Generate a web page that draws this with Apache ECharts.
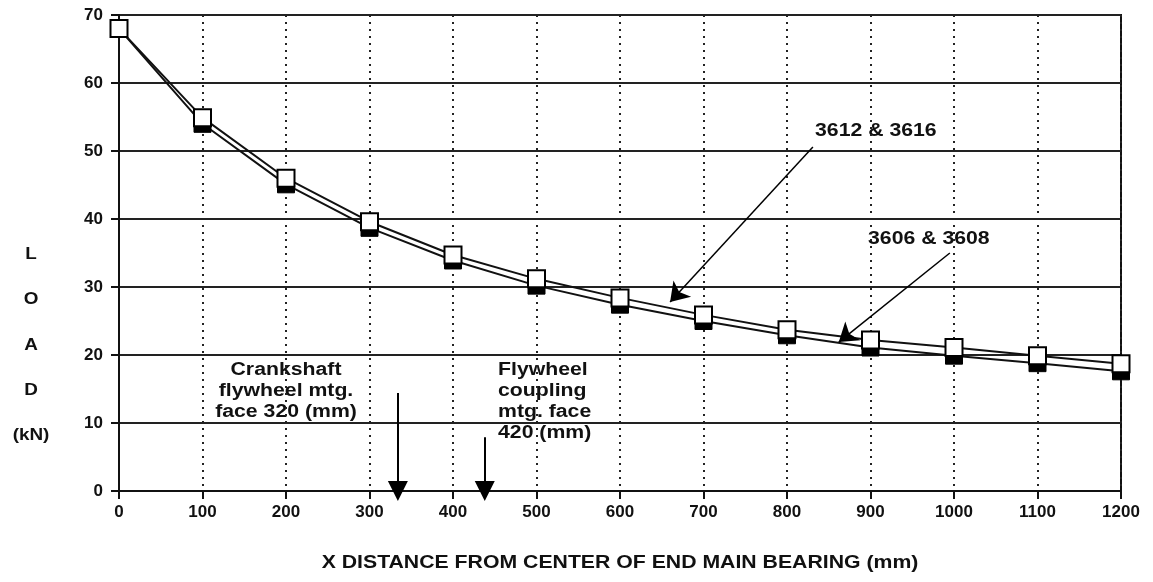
<!DOCTYPE html>
<html>
<head>
<meta charset="utf-8">
<script src="https://cdn.jsdelivr.net/npm/echarts@6/dist/echarts.min.js"></script>
<style>
    html, body { margin: 0; padding: 0; background: #fff; }
    #chart { width: 1153px; height: 582px; }
</style>
</head>
<body>
<div id="chart"></div>
<script>
// distance from center of end main bearing (mm)
const distances = [0, 100, 200, 300, 400, 500, 600, 700, 800, 900, 1000, 1100, 1200];
// load (kN)
const load3612 = [68, 54.9, 46.0, 39.6, 34.7, 31.2, 28.4, 25.9, 23.7, 22.2, 21.1, 19.9, 18.7];
const load3606 = [68, 54.0, 45.1, 38.7, 33.9, 30.2, 27.4, 25.0, 22.9, 21.1, 19.9, 18.8, 17.6];

// annotation arrows in data coordinates [x, y]
const engineArrows = [
    [[831, 50.6], [660, 27.8]],   // 3612 & 3616
    [[995, 35.0], [862, 21.9]]    // 3606 & 3608
];
const faceArrows = [
    [[334, 14.4], [334, 0]],      // crankshaft flywheel mtg. face
    [[438, 7.9], [438, 0]]        // flywheel coupling mtg. face
];

const FONT = 'Liberation Sans, Arial, sans-serif';
const WIDE = 1.18; // the scanned lettering is wider than Arial

const chart = echarts.init(document.getElementById('chart'));

function toPairs(ys) {
    return distances.map((x, i) => [x, ys[i]]);
}

function arrowLines(list) {
    return list.map(a => [{ coord: a[0] }, { coord: a[1] }]);
}

function label(text, x, y, align, extra) {
    return {
        type: 'text', x: x, y: y, scaleX: WIDE,
        style: Object.assign({
            text: text, align: align, lineHeight: 21,
            fill: '#111', font: 'bold 18px ' + FONT
        }, extra || {})
    };
}

const option = {
    animation: false,
    grid: {
        left: 119, right: 32, top: 15, bottom: 91,
        show: true, borderColor: '#111', borderWidth: 2, backgroundColor: 'transparent'
    },
    xAxis: {
        type: 'value',
        min: 0, max: 1200, interval: 100,
        axisLine: { show: true, onZero: false, lineStyle: { color: '#111', width: 2 } },
        axisTick: { show: true, length: 8, lineStyle: { color: '#111', width: 2 } },
        axisLabel: {
            color: '#111', fontFamily: FONT, fontWeight: 'bold', fontSize: 17, margin: 13,
            formatter: v => String(v)
        },
        splitLine: { show: true, lineStyle: { color: '#222', width: 2, type: [2, 5] } }
    },
    yAxis: {
        type: 'value',
        min: 0, max: 70, interval: 10,
        axisLine: { show: true, lineStyle: { color: '#111', width: 2 } },
        axisTick: { show: true, length: 8, lineStyle: { color: '#111', width: 2 } },
        axisLabel: { color: '#111', fontFamily: FONT, fontWeight: 'bold', fontSize: 17, margin: 16 },
        splitLine: { show: true, lineStyle: { color: '#222', width: 2 } }
    },
    series: [
        {
            name: '3606 & 3608',
            type: 'line',
            data: toPairs(load3606),
            symbol: 'rect',
            symbolSize: 17,
            lineStyle: { color: '#111', width: 2 },
            itemStyle: { color: '#000', borderColor: '#000', borderWidth: 1 },
            z: 3,
            markLine: {
                silent: true,
                symbol: ['none', 'triangle'],
                symbolSize: 20,
                symbolRotate: 180,
                label: { show: false },
                lineStyle: { color: '#000', width: 2, type: 'solid' },
                data: arrowLines(faceArrows)
            }
        },
        {
            name: '3612 & 3616',
            type: 'line',
            data: toPairs(load3612),
            symbol: 'rect',
            symbolSize: 17,
            lineStyle: { color: '#111', width: 2 },
            itemStyle: { color: '#fff', borderColor: '#000', borderWidth: 2 },
            z: 4,
            markLine: {
                silent: true,
                symbol: ['none', 'arrow'],
                symbolSize: 18,
                label: { show: false },
                lineStyle: { color: '#000', width: 1.5, type: 'solid' },
                data: arrowLines(engineArrows)
            }
        }
    ],
    graphic: [
        label('L\n\nO\n\nA\n\nD\n\n(kN)', 31, 243, 'center', { lineHeight: 22.7, font: 'bold 16px ' + FONT }),
        label('X DISTANCE FROM CENTER OF END MAIN BEARING (mm)', 620, 563, 'center', { verticalAlign: 'middle' }),
        label('Crankshaft\nflywheel mtg.\nface 320 (mm)', 286, 360, 'center'),
        label('Flywheel\ncoupling\nmtg. face\n420 (mm)', 498, 360, 'left'),
        label('3612 & 3616', 815, 131, 'left', { verticalAlign: 'middle' }),
        label('3606 & 3608', 868, 239, 'left', { verticalAlign: 'middle' })
    ]
};

chart.setOption(option);
</script>
</body>
</html>
